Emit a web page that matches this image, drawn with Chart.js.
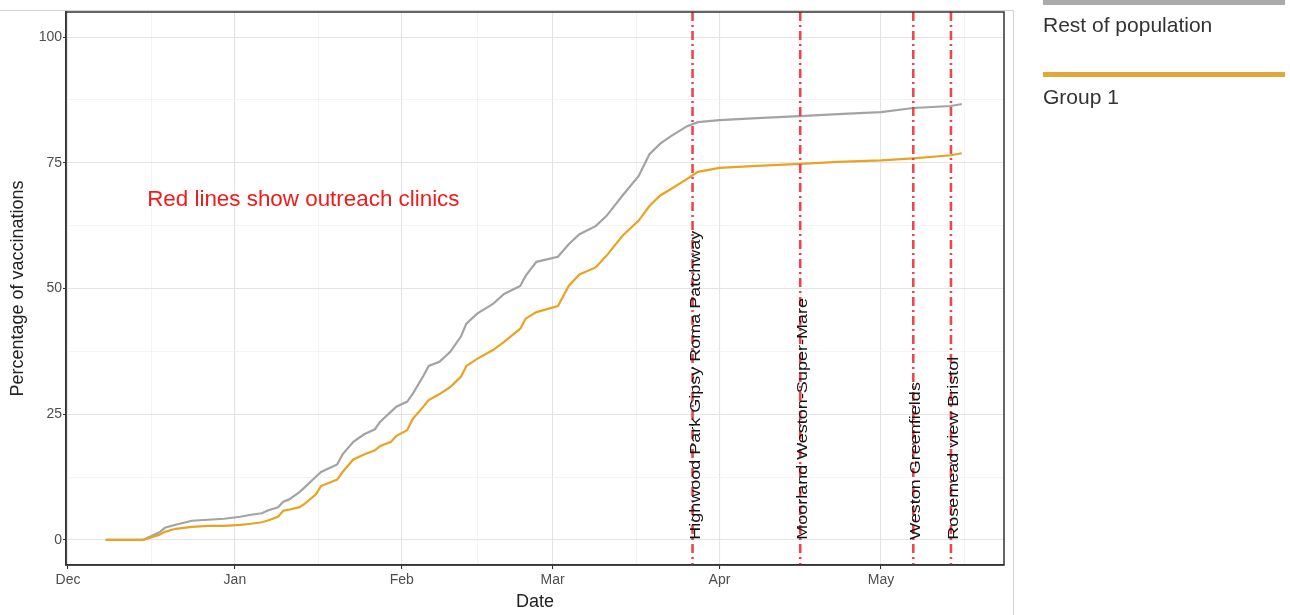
<!DOCTYPE html>
<html>
<head>
<meta charset="utf-8">
<script src="https://cdn.jsdelivr.net/npm/chart.js@4.4.0/dist/chart.umd.min.js"></script>
<style>
body { margin: 0; background: #fff; font-family: "Liberation Sans", Arial, sans-serif; }
#wrap { position: relative; width: 1290px; height: 615px; overflow: hidden; }
canvas { position: absolute; left: 0; top: 0; }
.frame { position: absolute; left: 0; top: 10px; width: 1014px; height: 610px; border-top: 1px solid #d2d2d2; border-right: 1px solid #d2d2d2; box-sizing: border-box; }
.key { position: absolute; left: 1043px; width: 242px; height: 5px; }
.keytxt { position: absolute; left: 1043px; font-size: 21px; line-height: 21px; color: #333; }
</style>
</head>
<body>
<div id="wrap">
  <div class="frame"></div>
  <canvas id="chart" width="1290" height="615"></canvas>
  <div class="key" style="top:0px;background:#ababab"></div>
  <div class="keytxt" style="top:14px">Rest of population</div>
  <div class="key" style="top:72px;background:#e2a63b"></div>
  <div class="keytxt" style="top:86px">Group 1</div>
</div>
<script>
// values (percentage vaccinated, cumulative)
const dates = ['2020-12-08','2020-12-15','2020-12-18','2020-12-19','2020-12-21','2020-12-24','2020-12-27','2020-12-30',
  '2021-01-02','2021-01-04','2021-01-06','2021-01-07','2021-01-09','2021-01-10','2021-01-11','2021-01-13','2021-01-14',
  '2021-01-16','2021-01-17','2021-01-20','2021-01-21','2021-01-23','2021-01-25','2021-01-27','2021-01-28','2021-01-30',
  '2021-01-31','2021-02-02','2021-02-03','2021-02-05','2021-02-06','2021-02-08','2021-02-10','2021-02-12','2021-02-13',
  '2021-02-15','2021-02-18','2021-02-20','2021-02-23','2021-02-24','2021-02-26','2021-03-02','2021-03-04','2021-03-06',
  '2021-03-09','2021-03-11','2021-03-14','2021-03-17','2021-03-19','2021-03-21','2021-03-23','2021-03-26','2021-03-28',
  '2021-04-01','2021-04-08','2021-04-16','2021-04-23','2021-05-01','2021-05-07','2021-05-14','2021-05-16'];
const restOfPopulation = [0, 0, 1.5, 2.4, 3.0, 3.8, 4.0, 4.2,
  4.6, 5.0, 5.3, 5.8, 6.5, 7.6, 8.0, 9.5, 10.5,
  12.5, 13.5, 15.0, 17.0, 19.5, 21.0, 22.0, 23.5, 25.5,
  26.5, 27.5, 29.0, 32.6, 34.6, 35.4, 37.4, 40.5, 43.0,
  45.0, 47.0, 48.9, 50.5, 52.5, 55.3, 56.3, 58.8, 60.8,
  62.4, 64.4, 68.5, 72.4, 76.7, 78.8, 80.3, 82.3, 83.1,
  83.5, 83.9, 84.3, 84.7, 85.1, 85.9, 86.3, 86.7];
const group1 = [0, 0, 1.0, 1.6, 2.2, 2.6, 2.8, 2.8,
  3.0, 3.2, 3.5, 3.8, 4.6, 5.8, 6.0, 6.5, 7.2,
  9.0, 10.7, 12.0, 13.5, 16.0, 17.0, 17.8, 18.7, 19.5,
  20.7, 21.8, 24.0, 26.5, 27.8, 29.0, 30.4, 32.5, 34.6,
  36.0, 37.8, 39.4, 42.0, 44.0, 45.3, 46.5, 50.5, 52.8,
  54.2, 56.5, 60.5, 63.5, 66.4, 68.5, 69.8, 71.8, 73.2,
  74.0, 74.4, 74.8, 75.2, 75.5, 75.9, 76.5, 76.9];

const clinicDates = ['2021-03-27', '2021-04-16', '2021-05-07', '2021-05-14'];
const clinicNames = ['Highwood Park Gipsy Roma Patchway', 'Moorland Weston-Super-Mare', 'Weston Greenfields', 'Rosemead view Bristol'];

const monthStarts = ['2020-12-01', '2021-01-01', '2021-02-01', '2021-03-01', '2021-04-01', '2021-05-01', '2021-06-01'];
const monthLabels = ['Dec', 'Jan', 'Feb', 'Mar', 'Apr', 'May'];
const yTicks = [0, 25, 50, 75, 100];

const day0 = Date.parse('2020-12-01');
const toDay = (d) => (Date.parse(d) - day0) / 864e5;

const monthDays = monthStarts.map(toDay);
const xMajor = monthDays.slice(0, monthLabels.length);
const xMinor = monthDays.slice(1).map((v, i) => (v + monthDays[i]) / 2);
const xAll = [...xMajor, ...xMinor].sort((a, b) => a - b);
const yMinor = yTicks.slice(1).map((v, i) => (v + yTicks[i]) / 2);
const yAll = [...yTicks, ...yMinor].sort((a, b) => a - b);

Chart.defaults.font.family = '"Liberation Sans", Arial, sans-serif';

// red clinic lines, their labels, the note and the panel border
const clinicPlugin = {
    id: 'clinics',
    afterDatasetsDraw(chart) {
        const { ctx, chartArea: a, scales: { x, y } } = chart;
        ctx.save();
        ctx.strokeStyle = 'rgba(236,50,60,0.9)';
        ctx.lineWidth = 2.6;
        ctx.setLineDash([9, 4, 2, 4]);
        clinicDates.forEach((d) => {
            const px = x.getPixelForValue(toDay(d));
            ctx.beginPath();
            ctx.moveTo(px, a.top);
            ctx.lineTo(px, a.bottom);
            ctx.stroke();
        });
        ctx.setLineDash([]);

        ctx.fillStyle = '#151515';
        ctx.font = '18px "Liberation Sans", Arial, sans-serif';
        ctx.textAlign = 'left';
        ctx.textBaseline = 'middle';
        clinicDates.forEach((d, i) => {
            ctx.save();
            ctx.translate(x.getPixelForValue(toDay(d)) + 3, y.getPixelForValue(0));
            ctx.rotate(-Math.PI / 2);
            ctx.scale(1, 0.8);
            ctx.fillText(clinicNames[i], 0, 0);
            ctx.restore();
        });

        ctx.fillStyle = '#ee1c1c';
        ctx.font = '22.4px "Liberation Sans", Arial, sans-serif';
        ctx.textBaseline = 'alphabetic';
        ctx.fillText('Red lines show outreach clinics', x.getPixelForValue(14.7), y.getPixelForValue(66.4));

        ctx.strokeStyle = '#333';
        ctx.lineWidth = 1.5;
        ctx.strokeRect(a.left, a.top, a.right - a.left, a.bottom - a.top);
        ctx.restore();
    }
};

const gridColor = (majors) => (c) => majors.includes(c.tick.value) ? '#e4e4e4' : '#efefef';
const gridWidth = (majors) => (c) => majors.includes(c.tick.value) ? 1.1 : 0.7;
const tickColor = (majors) => (c) => majors.includes(c.tick.value) ? '#333' : 'rgba(0,0,0,0)';

const ctx = document.getElementById('chart').getContext('2d');
const chart = new Chart(ctx, {
    type: 'line',
    data: {
        datasets: [
            {
                label: 'Group 1',
                data: dates.map((d, i) => ({ x: toDay(d), y: group1[i] })),
                borderColor: '#e8a323',
                borderWidth: 2.2,
                pointRadius: 0,
                tension: 0,
            },
            {
                label: 'Rest of population',
                data: dates.map((d, i) => ({ x: toDay(d), y: restOfPopulation[i] })),
                borderColor: '#a3a3a3',
                borderWidth: 2.2,
                pointRadius: 0,
                tension: 0,
            },
        ],
    },
    options: {
        responsive: false,
        animation: false,
        layout: { padding: { top: 12, right: 286, left: 0, bottom: 0 } },
        plugins: { legend: { display: false }, tooltip: { enabled: false } },
        scales: {
            x: {
                type: 'linear',
                min: -0.37,
                max: 173.85,
                afterBuildTicks: (s) => { s.ticks = xAll.map((v) => ({ value: v })); },
                afterFit: (s) => { s.height = 50; },
                ticks: {
                    autoSkip: false,
                    maxRotation: 0,
                    color: '#4d4d4d',
                    font: { size: 14 },
                    padding: 3,
                    callback: (v) => xMajor.includes(v) ? monthLabels[xMajor.indexOf(v)] : '',
                },
                grid: { color: gridColor(xMajor), lineWidth: gridWidth(xMajor), tickColor: tickColor(xMajor), tickLength: 4 },
                border: { color: '#333', width: 1.5 },
                title: { display: true, text: 'Date', color: '#222', font: { size: 18 }, padding: { top: 0, bottom: 2 } },
            },
            y: {
                min: -5,
                max: 105,
                afterBuildTicks: (s) => { s.ticks = yAll.map((v) => ({ value: v })); },
                afterFit: (s) => { s.width = 66; },
                ticks: {
                    color: '#4d4d4d',
                    font: { size: 14 },
                    padding: 1,
                    callback: (v) => yTicks.includes(v) ? v : '',
                },
                grid: { color: gridColor(yTicks), lineWidth: gridWidth(yTicks), tickColor: tickColor(yTicks), tickLength: 3 },
                border: { color: '#333', width: 1.5 },
                title: { display: true, text: 'Percentage of vaccinations', color: '#222', font: { size: 18 }, padding: { top: 7, bottom: 0 } },
            },
        },
    },
    plugins: [clinicPlugin],
});
</script>
</body>
</html>
